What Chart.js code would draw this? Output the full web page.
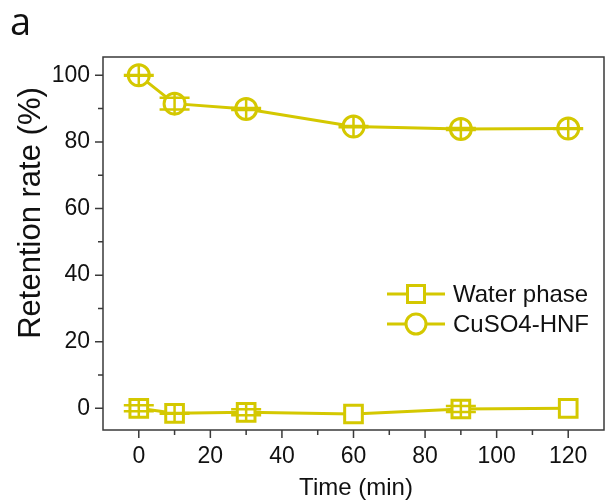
<!DOCTYPE html>
<html>
<head>
<meta charset="utf-8">
<script src="https://cdn.jsdelivr.net/npm/chart.js@4.4.1/dist/chart.umd.min.js"></script>
<style>
  html, body { margin: 0; padding: 0; background: #fff; }
  #wrap { width: 606px; height: 502px; }
</style>
</head>
<body>
<div id="wrap"><canvas id="myChart" width="606" height="502"></canvas></div>
<script>
// data
const times = [0, 10, 30, 60, 90, 120];
const waterPhase = [0, -1.5, -1.2, -1.7, -0.2, 0];
const waterErr = [0.9, 0.1, 0.9, 0, 0.9, 0];
const cuso4HNF = [100, 91.5, 89.9, 84.6, 83.9, 84.0];
const hnfErr = [0.1, 1.8, 0.3, 0.2, 0.3, 0.1];
const xTicks = [0, 20, 40, 60, 80, 100, 120];
const yTicks = [0, 20, 40, 60, 80, 100];
const seriesNames = ['Water phase', 'CuSO4-HNF'];

const yellow = 'rgb(212,200,0)';
const axisColor = '#3a3a3a';
const font = '"Liberation Sans", Arial, sans-serif';

const errorBars = {
    id: 'errorBars',
    afterDatasetsDraw(chart) {
        const ctx = chart.ctx;
        const y = chart.scales.y;
        chart.data.datasets.forEach((ds, i) => {
            const meta = chart.getDatasetMeta(i);
            ds.errors.forEach((err, j) => {
                if (!err) return;
                const pt = meta.data[j];
                const top = y.getPixelForValue(ds.data[j].y + err);
                const bot = y.getPixelForValue(ds.data[j].y - err);
                const r = ds.pointStyle === 'rect' ? 9 : 10.5;
                ctx.save();
                ctx.strokeStyle = yellow;
                ctx.lineWidth = 2.5;
                ctx.beginPath();
                ctx.moveTo(pt.x, Math.min(top, pt.y - r));
                ctx.lineTo(pt.x, Math.max(bot, pt.y + r));
                ctx.moveTo(pt.x - 15, top);
                ctx.lineTo(pt.x + 15, top);
                ctx.moveTo(pt.x - 15, bot);
                ctx.lineTo(pt.x + 15, bot);
                ctx.stroke();
                ctx.restore();
            });
        });
    }
};

const frameAndText = {
    id: 'frameAndText',
    afterDraw(chart) {
        const ctx = chart.ctx;
        const a = chart.chartArea;
        const xs = chart.scales.x, ys = chart.scales.y;
        ctx.save();
        ctx.strokeStyle = axisColor;
        ctx.lineWidth = 1.5;
        ctx.strokeRect(a.left, a.top, a.right - a.left, a.bottom - a.top);
        ctx.beginPath();
        // x ticks, major every 20, minor every 10
        for (let v = -10; v <= 130; v += 10) {
            const px = xs.getPixelForValue(v);
            if (px < a.left + 1 || px > a.right - 1) continue;
            const len = (v % 20 === 0) ? 8 : 5;
            ctx.moveTo(px, a.bottom);
            ctx.lineTo(px, a.bottom + len);
        }
        for (let v = 0; v <= 100; v += 10) {
            const py = ys.getPixelForValue(v);
            const len = (v % 20 === 0) ? 8 : 5;
            ctx.moveTo(a.left, py);
            ctx.lineTo(a.left - len, py);
        }
        ctx.stroke();

        // panel label
        ctx.fillStyle = '#111';
        ctx.font = '38px "Open Sans", sans-serif';
        ctx.textAlign = 'left';
        ctx.textBaseline = 'alphabetic';
        ctx.fillText('a', 10, 35);

        // axis titles
        ctx.font = '24px ' + font;
        ctx.textAlign = 'center';
        ctx.textBaseline = 'middle';
        ctx.fillText('Time (min)', 356, 488);
        ctx.save();
        ctx.translate(31, 213);
        ctx.rotate(-Math.PI / 2);
        ctx.font = '31px ' + font;
        ctx.fillText('Retention rate (%)', 0, 0);
        ctx.restore();

        // legend
        const rows = [
            { name: seriesNames[0], style: 'rect', y: 294 },
            { name: seriesNames[1], style: 'circle', y: 324 }
        ];
        rows.forEach(row => {
            ctx.strokeStyle = yellow;
            ctx.lineWidth = 3;
            ctx.beginPath();
            ctx.moveTo(387, row.y);
            ctx.lineTo(445, row.y);
            ctx.stroke();
            ctx.fillStyle = '#fff';
            ctx.beginPath();
            if (row.style === 'rect') {
                ctx.rect(416 - 8.5, row.y - 8.5, 17, 17);
            } else {
                ctx.arc(416, row.y, 10, 0, Math.PI * 2);
            }
            ctx.fill();
            ctx.stroke();
            ctx.fillStyle = '#111';
            ctx.font = '24px ' + font;
            ctx.textAlign = 'left';
            ctx.textBaseline = 'middle';
            ctx.fillText(row.name, 453, row.y + 1);
        });
        ctx.restore();
    }
};

const toPoints = (vals) => vals.map((v, i) => ({ x: times[i], y: v }));

const chart = new Chart(document.getElementById('myChart'), {
    type: 'line',
    data: {
        datasets: [
            {
                label: seriesNames[0],
                data: toPoints(waterPhase),
                errors: waterErr,
                borderColor: yellow,
                borderWidth: 3,
                pointStyle: 'rect',
                pointRadius: 12.5,
                pointBorderWidth: 3,
                pointBackgroundColor: '#fff',
                pointBorderColor: yellow,
                tension: 0
            },
            {
                label: seriesNames[1],
                data: toPoints(cuso4HNF),
                errors: hnfErr,
                borderColor: yellow,
                borderWidth: 3,
                pointStyle: 'circle',
                pointRadius: 10.5,
                pointBorderWidth: 3,
                pointBackgroundColor: '#fff',
                pointBorderColor: yellow,
                tension: 0
            }
        ]
    },
    options: {
        responsive: false,
        animation: false,
        layout: { autoPadding: false, padding: { top: 57, right: 2, left: 0, bottom: 0 } },
        plugins: { legend: { display: false }, tooltip: { enabled: false } },
        scales: {
            x: {
                type: 'linear',
                min: -10,
                max: 130,
                afterBuildTicks: (s) => { s.ticks = xTicks.map(v => ({ value: v })); },
                afterFit: (s) => { s.height = 72; s.paddingLeft = 0; s.paddingRight = 0; },
                grid: { display: false, drawTicks: false },
                border: { display: false },
                ticks: { color: '#111', font: { family: font, size: 23 }, padding: 13, maxRotation: 0 }
            },
            y: {
                min: -6.5,
                max: 105.5,
                afterBuildTicks: (s) => { s.ticks = yTicks.map(v => ({ value: v })); },
                afterFit: (s) => { s.width = 103; s.paddingTop = 0; s.paddingBottom = 0; },
                grid: { display: false, drawTicks: false },
                border: { display: false },
                ticks: { color: '#111', font: { family: font, size: 23 }, padding: 13 }
            }
        }
    },
    plugins: [errorBars, frameAndText]
});
</script>
</body>
</html>
